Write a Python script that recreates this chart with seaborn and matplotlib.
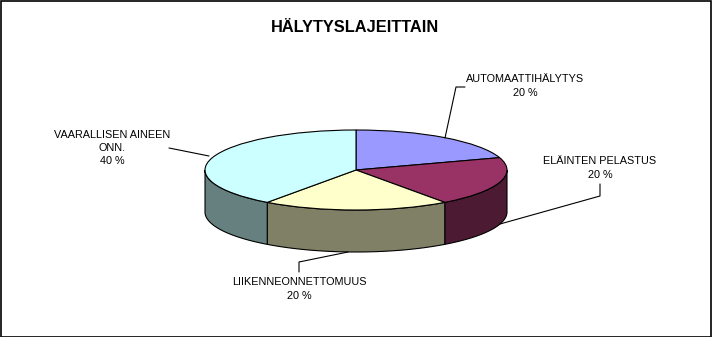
import numpy as np
import matplotlib
matplotlib.use("Agg")
import matplotlib.pyplot as plt
import seaborn as sns
from matplotlib.patches import Rectangle

# ---- data ----
categories = ["AUTOMAATTIHÄLYTYS", "ELÄINTEN PELASTUS", "LIIKENNEONNETTOMUUS", "VAARALLISEN AINEEN\nONN."]
shares = [20, 20, 20, 40]
title = "HÄLYTYSLAJEITTAIN"

# ---- style ----
top_colors = ["#9999FF", "#993366", "#FFFFCC", "#CCFFFF"]
side_colors = ["#4D4D80", "#4D1A33", "#808066", "#668080"]

sns.set_theme(style="white")
plt.rcParams["font.family"] = ["Liberation Sans", "DejaVu Sans"]

W, H = 712, 337
fig = plt.figure(figsize=(W / 100, H / 100), dpi=100)
fig.patch.set_facecolor("white")

# pie geometry in pixels
cx, cy = 356, 170      # centre of top ellipse
rx, ry = 151, 40       # semi axes
depth_px = 42

ax = fig.add_axes([0, 0, 1, 1])
ax.pie(shares, colors=top_colors, startangle=90, counterclock=False,
       radius=1, center=(0, 0), frame=False,
       wedgeprops=dict(edgecolor="black", linewidth=0.8))
ax.set_aspect("auto")
ax.set_xlim(-cx / rx, (W - cx) / rx)
ax.set_ylim(-(H - cy) / ry, cy / ry)
ax.axis("off")

# side walls (visible lower half)
d = depth_px / ry
fracs = np.array(shares, dtype=float) / np.sum(shares)
bounds = 90 - 360 * np.concatenate([[0], np.cumsum(fracs)])
for i in range(len(shares)):
    hi, lo = bounds[i], bounds[i + 1]
    a, b = max(lo, -180), min(hi, 0)
    if b <= a:
        continue
    t = np.radians(np.linspace(a, b, 100))
    xs = np.concatenate([np.cos(t), np.cos(t[::-1])])
    ys = np.concatenate([np.sin(t), np.sin(t[::-1]) - d])
    ax.fill(xs, ys, facecolor=side_colors[i], edgecolor="black",
            linewidth=0.8, zorder=0.5)

# overlay axes in pixel coordinates for labels
ov = fig.add_axes([0, 0, 1, 1])
ov.set_xlim(0, W)
ov.set_ylim(H, 0)
ov.axis("off")
ov.patch.set_alpha(0)

ov.text(355, 28, title, ha="center", va="center", fontsize=11.8,
        fontweight="bold", color="black")

label_pos = [(525, 86), (600, 168), (299, 289), (112, 148)]
leaders = [
    [(465, 87), (456, 87), (445, 138)],
    [(600, 184), (600, 196), (500, 224)],
    [(299, 272), (299, 262), (348, 252)],
    [(169, 148), (209, 156)],
]
for cat, val, (lx, ly), pts in zip(categories, shares, label_pos, leaders):
    ov.text(lx, ly, f"{cat}\n{val} %", ha="center", va="center",
            fontsize=7.8, linespacing=1.4, color="black")
    px, py = zip(*pts)
    ov.plot(px, py, color="black", linewidth=0.8)

fig.add_artist(Rectangle((0.5 / W, 0.5 / H), 1 - 1.5 / W, 1 - 1.5 / H,
                         transform=fig.transFigure, fill=False,
                         edgecolor="black", linewidth=1.2))

fig.savefig("out.png", dpi=100)
